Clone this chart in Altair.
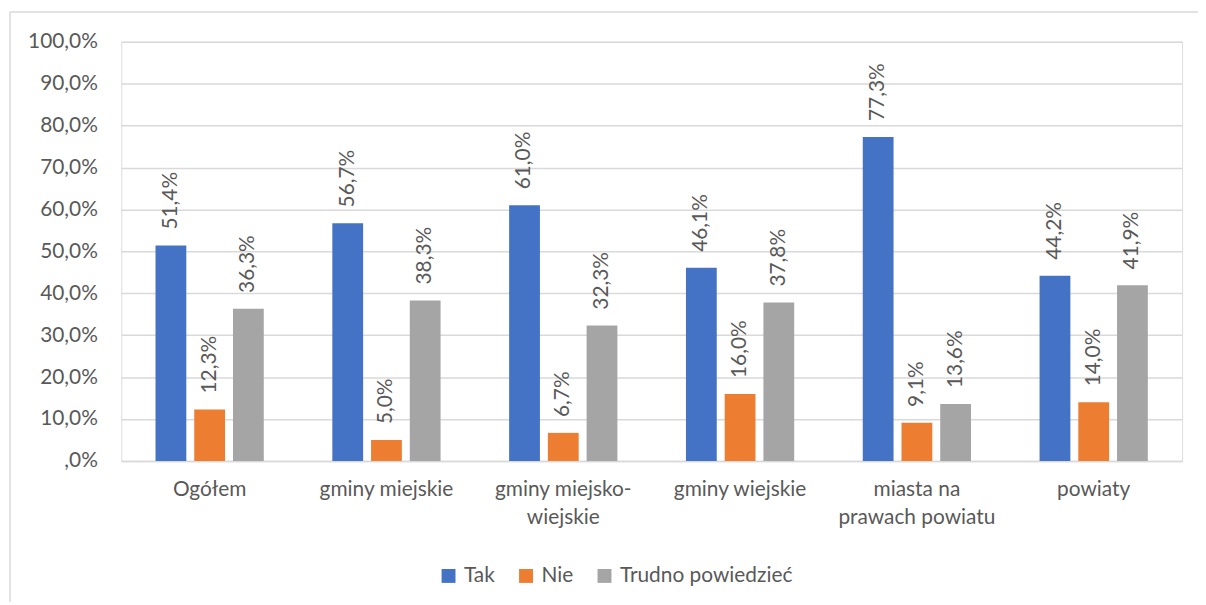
import altair as alt
import pandas as pd

categories = ["Ogółem", "gminy miejskie", "gminy miejsko-|wiejskie", "gminy wiejskie", "miasta na|prawach powiatu", "powiaty"]
series = ["Tak", "Nie", "Trudno powiedzieć"]
tak = [51.4, 56.7, 61.0, 46.1, 77.3, 44.2]
nie = [12.3, 5.0, 6.7, 16.0, 9.1, 14.0]
trudno = [36.3, 38.3, 32.3, 37.8, 13.6, 41.9]
colors = ["#4472C4", "#ED7D31", "#A5A5A5"]
y_ticks = [0, 10, 20, 30, 40, 50, 60, 70, 80, 90, 100]

rows = []
for i, c in enumerate(categories):
    for s, vals in zip(series, [tak, nie, trudno]):
        rows.append({"kategoria": c, "seria": s, "wartosc": vals[i]})
df = pd.DataFrame(rows)

FONT = "Lato"
FS = 21
TXT = "#595959"

x = alt.X("kategoria:N", sort=categories, title=None,
          scale=alt.Scale(paddingInner=0, paddingOuter=0),
          axis=alt.Axis(labelAngle=0, labelExpr="split(datum.label, '|')",
                        labelLineHeight=28, labelPadding=18, ticks=False,
                        domain=True, domainColor="#d9d9d9", domainWidth=1.5,
                        labelFont=FONT, labelFontSize=FS, labelColor=TXT,
                        grid=False))
xo = alt.XOffset("seria:N", sort=series,
                 scale=alt.Scale(paddingInner=0.205, paddingOuter=0.885))
y = alt.Y("wartosc:Q", title=None,
          scale=alt.Scale(domain=[0, 100], nice=False),
          axis=alt.Axis(values=y_ticks, domain=False, ticks=False,
                        labelExpr="datum.value == 0 ? ',0%' : replace(format(datum.value, '.1f'), '.', ',') + '%'",
                        labelFont=FONT, labelFontSize=FS, labelColor=TXT,
                        labelPadding=24, gridColor="#d9d9d9", gridWidth=1.5))
color = alt.Color("seria:N", sort=series,
                  scale=alt.Scale(domain=series, range=colors),
                  legend=alt.Legend(title=None, orient="none", direction="horizontal",
                                    legendX=319, legendY=527,
                                    symbolType="square", symbolSize=196,
                                    symbolStrokeWidth=0, symbolOpacity=1,
                                    labelFont=FONT, labelFontSize=FS, labelColor=TXT,
                                    labelLimit=400,
                                    columnPadding=20, labelOffset=5))

bars = alt.Chart(df).mark_bar(stroke=None).encode(x=x, xOffset=xo, y=y, color=color)

labels = alt.Chart(df).transform_calculate(
    lab="replace(format(datum.wartosc, '.1f'), '.', ',') + '%'"
).mark_text(angle=270, align="left", baseline="middle", dx=16,
            font=FONT, fontSize=FS, color=TXT).encode(
    x=alt.X("kategoria:N", sort=categories),
    xOffset=alt.XOffset("seria:N", sort=series),
    y="wartosc:Q",
    text="lab:N")

border = alt.Chart(pd.DataFrame({"a": [0]})).mark_rule(color="#d9d9d9", strokeWidth=1.5, clip=False).encode(
    x=alt.value(-112), x2=alt.value(1200), y=alt.value(-30))
border2 = alt.Chart(pd.DataFrame({"a": [0]})).mark_rule(color="#d9d9d9", strokeWidth=1.5, clip=False).encode(
    x=alt.value(-112), y=alt.value(-30), y2=alt.value(600))

chart = alt.layer(bars, labels, border, border2).properties(
    width=1068, height=422,
    autosize=alt.AutoSizeParams(type="none"),
    padding={"left": 114, "top": 32, "right": 16, "bottom": 140},
).configure_view(stroke=None).configure(background="white")

chart.save("out.html", embed_options={"renderer": "svg", "actions": False})
